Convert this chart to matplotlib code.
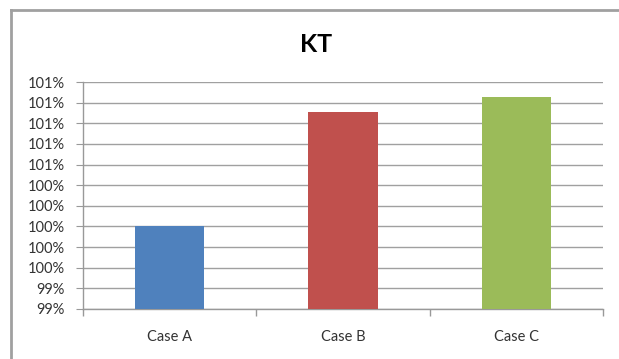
import matplotlib.pyplot as plt
from matplotlib.lines import Line2D
from matplotlib.ticker import FixedLocator, FuncFormatter

cases = ["Case A", "Case B", "Case C"]
kt = [1.000, 1.0111, 1.0125]
colors = ["#4F81BD", "#C0504D", "#9BBB59"]
y_ticks = [0.992, 0.994, 0.996, 0.998, 1.000, 1.002, 1.004, 1.006, 1.008, 1.010, 1.012, 1.014]

plt.rcParams['font.family'] = ['Lato', 'DejaVu Sans']

fig = plt.figure(figsize=(6.19, 3.59), dpi=100)
W, H = 619, 359
ax = fig.add_axes([83 / W, (H - 309) / H, (603 - 83) / W, (309 - 82) / H])

x = range(len(cases))
ax.bar(x, kt, width=0.4, color=colors, zorder=3)

ax.set_xlim(-0.5, 2.5)
ax.set_ylim(y_ticks[0], y_ticks[-1])
ax.yaxis.set_major_locator(FixedLocator(y_ticks))
ax.yaxis.set_major_formatter(FuncFormatter(lambda v, p: "%d%%" % round(v * 100 - 1e-9)))
ax.set_xticks(list(x))
ax.set_xticklabels(cases)
# category boundary ticks on the x axis
ax.set_xticks([-0.5, 0.5, 1.5, 2.5], minor=True)
ax.tick_params(axis='x', which='major', length=0, pad=15, labelsize=10.5, labelcolor='#333333')
ax.tick_params(axis='x', which='minor', length=5, color='#999999', width=1)
ax.tick_params(axis='y', length=5, color='#999999', labelsize=10.5, labelcolor='#333333', pad=8)

ax.grid(axis='y', color='#a0a0a0', linewidth=1, zorder=0)
for s in ['top', 'right']:
    ax.spines[s].set_visible(False)
for s in ['left', 'bottom']:
    ax.spines[s].set_color('#999999')
    ax.spines[s].set_linewidth(1)

fig.text(316 / W, 1 - 44 / H, "KT", ha='center', va='center', fontsize=18, fontweight='bold')

# chart frame
fig.add_artist(Line2D([11 / W, 11 / W], [0, 1 - 10 / H], color='#a0a0a0', linewidth=2))
fig.add_artist(Line2D([11 / W, 1], [1 - 10 / H, 1 - 10 / H], color='#a0a0a0', linewidth=2))

fig.savefig("out.png", dpi=100)
